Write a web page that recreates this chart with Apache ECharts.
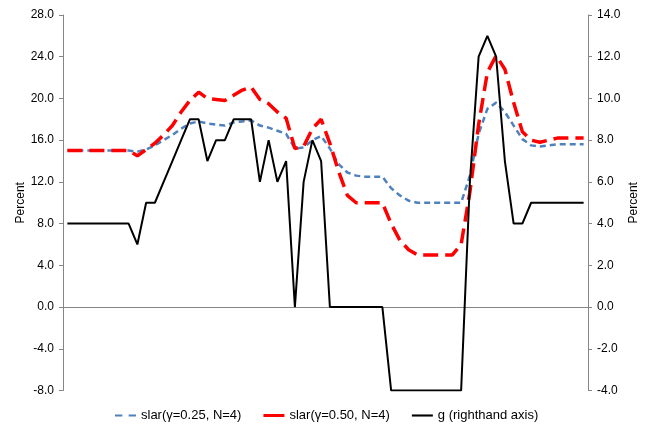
<!DOCTYPE html>
<html>
<head>
<meta charset="utf-8">
<script src="https://cdn.jsdelivr.net/npm/echarts@6/dist/echarts.min.js"></script>
<style>html,body{margin:0;padding:0;background:#fff}#c{width:645px;height:433px}</style>
</head>
<body>
<div id="c"></div>
<script>
var categories = [];
for (var k = 1; k <= 60; k++) categories.push(String(k));

var slar025 = [15.0,15.0,15.0,15.0,15.0,15.0,15.0,15.0,14.9,15.1,
  15.5,16.0,16.5,17.1,17.6,17.8,17.6,17.5,17.4,17.7,
  17.8,17.9,17.4,17.2,16.9,16.6,15.2,15.3,16.0,16.4,
  15.2,13.7,12.9,12.6,12.5,12.5,12.5,11.4,10.7,10.2,
  10.0,10.0,10.0,10.0,10.0,10.0,12.6,16.6,19.0,19.6,
  18.7,17.4,16.1,15.5,15.4,15.5,15.6,15.6,15.6,15.6];

var slar050 = [15.0,15.0,15.0,15.0,15.0,15.0,15.0,15.0,14.5,15.1,
  15.7,16.5,17.4,18.7,19.8,20.6,20.0,19.9,19.8,20.3,
  20.8,21.1,19.9,19.5,18.7,18.1,15.2,15.4,17.1,18.0,
  15.7,13.0,10.7,10.0,10.0,10.0,10.0,8.0,6.4,5.5,
  5.0,5.0,5.0,5.0,5.0,6.0,11.0,17.5,22.5,24.1,
  22.8,19.6,16.8,16.0,15.8,16.0,16.2,16.2,16.2,16.2];

var gRight = [4,4,4,4,4,4,4,4,3,5,
  5,6,7,8,9,9,7,8,8,9,
  9,9,6,8,6,7,0,6,8,7,
  0,0,0,0,0,0,0,-4,-4,-4,
  -4,-4,-4,-4,-4,-4,6,12,13,12,
  7,4,4,5,5,5,5,5,5,5];

var seriesNames = ['slar(\u03b3=0.25, N=4)', 'slar(\u03b3=0.50, N=4)', 'g (righthand axis)'];

var axisColor = '#868686';
var font = 'Liberation Sans, Arial, sans-serif';

var chart = echarts.init(document.getElementById('c'), null, {renderer: 'canvas'});
chart.setOption({
  animation: false,
  backgroundColor: '#ffffff',
  grid: {left: 63, right: 57, top: 15, bottom: 42.5, containLabel: false, outerBoundsMode: 'none'},
  legend: {
    left: 110, bottom: 6,
    itemWidth: 21, itemHeight: 3, itemGap: 22,
    textStyle: {fontFamily: font, fontSize: 13, color: '#000'},
    data: [
      {name: seriesNames[0], icon: 'path://M0,0h7v2h-7z M13,0h7v2h-7z', itemStyle: {color: '#4f81bd'}},
      {name: seriesNames[1], icon: 'rect', itemStyle: {color: '#ff0000'}},
      {name: seriesNames[2], icon: 'path://M0,0h20v2h-20z', itemStyle: {color: '#000000'}}
    ]
  },
  xAxis: {
    type: 'category', data: categories, boundaryGap: true,
    axisLine: {show: true, onZero: true, onZeroAxisIndex: 0, lineStyle: {color: axisColor, width: 1}},
    axisTick: {show: false}, axisLabel: {show: false}, splitLine: {show: false}
  },
  yAxis: [
    {
      type: 'value', min: -8, max: 28, interval: 4, position: 'left',
      name: 'Percent', nameLocation: 'middle', nameRotate: 90, nameGap: 36, nameMoveOverlap: false,
      nameTextStyle: {fontFamily: font, fontSize: 12, color: '#000'},
      axisLine: {show: true, lineStyle: {color: axisColor}},
      axisTick: {show: true, inside: false, length: 4, lineStyle: {color: axisColor}},
      axisLabel: {fontFamily: font, fontSize: 12, color: '#000', margin: 9,
        formatter: function (v) { return v.toFixed(1); }},
      splitLine: {show: false}
    },
    {
      type: 'value', min: -4, max: 14, interval: 2, position: 'right',
      name: 'Percent', nameLocation: 'middle', nameRotate: 90, nameGap: 40, nameMoveOverlap: false,
      nameTextStyle: {fontFamily: font, fontSize: 12, color: '#000'},
      axisLine: {show: true, lineStyle: {color: axisColor}},
      axisTick: {show: true, inside: false, length: 4, lineStyle: {color: axisColor}},
      axisLabel: {fontFamily: font, fontSize: 12, color: '#000', margin: 9,
        formatter: function (v) { return v.toFixed(1); }},
      splitLine: {show: false}
    }
  ],
  series: [
    {
      name: seriesNames[0], type: 'line', data: slar025, yAxisIndex: 0,
      showSymbol: false, symbol: 'none',
      lineStyle: {color: '#4f81bd', width: 2.5, type: [6, 4]},
      itemStyle: {color: '#4f81bd'}, z: 3
    },
    {
      name: seriesNames[1], type: 'line', data: slar050, yAxisIndex: 0,
      showSymbol: false, symbol: 'none',
      lineStyle: {color: '#ff0000', width: 3.5, type: [15, 7]},
      itemStyle: {color: '#ff0000'}, z: 4
    },
    {
      name: seriesNames[2], type: 'line', data: gRight, yAxisIndex: 1,
      showSymbol: false, symbol: 'none',
      lineStyle: {color: '#000000', width: 2},
      itemStyle: {color: '#000000'}, z: 5
    }
  ]
});
</script>
</body>
</html>
